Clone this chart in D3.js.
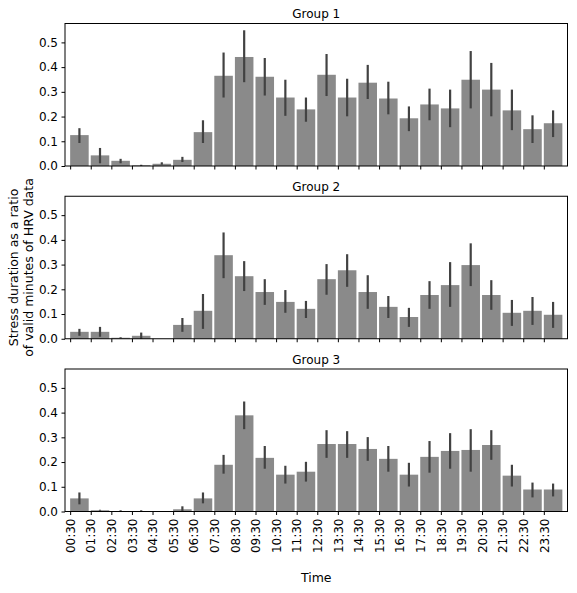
<!DOCTYPE html>
<html><head><meta charset="utf-8">
<script src="https://cdn.jsdelivr.net/npm/d3@7"></script>
<style>body{margin:0;background:#fff} svg{display:block} text{font-family:"DejaVu Sans",sans-serif;fill:#000}</style>
</head><body><svg id="c" width="577" height="593"></svg>
<script>
const times = ["00:30","01:30","02:30","03:30","04:30","05:30","06:30","07:30","08:30","09:30","10:30","11:30","12:30","13:30","14:30","15:30","16:30","17:30","18:30","19:30","20:30","21:30","22:30","23:30"];
const groupNames = ["Group 1","Group 2","Group 3"];
const yTicks = [0.0,0.1,0.2,0.3,0.4,0.5];

const g1Mean = [0.125,0.043,0.021,0.003,0.009,0.025,0.137,0.365,0.441,0.361,0.277,0.229,0.369,0.277,0.337,0.273,0.193,0.249,0.233,0.349,0.309,0.225,0.149,0.173];
const g1Low  = [0.093,0.011,0.011,0.000,0.005,0.016,0.093,0.277,0.339,0.285,0.203,0.179,0.283,0.201,0.271,0.209,0.141,0.185,0.157,0.233,0.201,0.145,0.093,0.117];
const g1High = [0.153,0.073,0.029,0.005,0.015,0.037,0.185,0.459,0.549,0.437,0.349,0.277,0.453,0.353,0.409,0.341,0.241,0.313,0.309,0.465,0.417,0.309,0.205,0.225];

const g2Mean = [0.028,0.028,0.004,0.012,0.000,0.056,0.113,0.338,0.253,0.189,0.149,0.121,0.241,0.277,0.189,0.129,0.088,0.177,0.217,0.298,0.177,0.105,0.113,0.097];
const g2Low  = [0.012,0.008,0.002,0.000,0.000,0.028,0.040,0.245,0.193,0.137,0.105,0.084,0.178,0.210,0.121,0.084,0.048,0.121,0.129,0.213,0.117,0.052,0.056,0.044];
const g2High = [0.040,0.048,0.006,0.025,0.000,0.084,0.181,0.430,0.314,0.241,0.197,0.153,0.302,0.342,0.257,0.173,0.125,0.233,0.310,0.386,0.237,0.157,0.169,0.149];

const g3Mean = [0.053,0.005,0.002,0.002,0.000,0.009,0.053,0.189,0.389,0.217,0.149,0.161,0.273,0.273,0.253,0.213,0.149,0.221,0.245,0.249,0.269,0.145,0.089,0.089];
const g3Low  = [0.029,0.003,0.000,0.000,0.000,0.000,0.033,0.153,0.333,0.173,0.113,0.121,0.217,0.217,0.205,0.161,0.101,0.157,0.173,0.161,0.209,0.101,0.057,0.061];
const g3High = [0.077,0.007,0.005,0.005,0.000,0.021,0.077,0.229,0.445,0.265,0.185,0.201,0.329,0.325,0.301,0.265,0.197,0.285,0.317,0.333,0.329,0.189,0.117,0.113];

const series = [
  {name: groupNames[0], mean: g1Mean, low: g1Low, high: g1High},
  {name: groupNames[1], mean: g2Mean, low: g2Low, high: g2High},
  {name: groupNames[2], mean: g3Mean, low: g3Low, high: g3High}
];

const svg = d3.select("#c");
const left = 65, right = 567.5;
const panelTop0 = 23.5, panelStep = 172.75, panelH = 142.5;
const barW = 0.9;
const allHigh = d3.max(series.flatMap(s => s.high));
const x = d3.scaleLinear().domain([-0.25, times.length - 1 + 0.25 + barW]).range([left, right]);

series.forEach((s, gi) => {
  const top = panelTop0 + gi * panelStep;
  const bottom = top + panelH;
  const y = d3.scaleLinear().domain([0, allHigh * 1.05]).range([bottom, top]);
  const g = svg.append("g");

  g.selectAll("rect.bar").data(s.mean).join("rect")
    .attr("x", (d, i) => x(i))
    .attr("width", x(barW) - x(0))
    .attr("y", d => y(d))
    .attr("height", d => y(0) - y(d))
    .attr("fill", "#8a8a8a");

  g.selectAll("line.err").data(s.mean.map((d, i) => i).filter(i => s.high[i] > s.low[i])).join("line")
    .attr("x1", i => x(i + barW / 2)).attr("x2", i => x(i + barW / 2))
    .attr("y1", i => y(s.low[i])).attr("y2", i => y(s.high[i]))
    .attr("stroke", "#424242").attr("stroke-width", 2.2);

  const yAxis = d3.axisLeft(y).tickValues(yTicks).tickFormat(d3.format(".1f")).tickSize(3.5).tickPadding(3.5);
  const ya = g.append("g").attr("transform", `translate(${left},0)`).call(yAxis);
  ya.select(".domain").remove();
  ya.selectAll("text").style("font-size", "12px").attr("fill", "#000");
  ya.selectAll("line").attr("stroke", "#000");

  const xAxis = d3.axisBottom(x).tickValues(d3.range(times.length)).tickFormat(i => times[i]).tickSize(3.5).tickPadding(3.5);
  const xa = g.append("g").attr("transform", `translate(0,${bottom})`).call(xAxis);
  xa.select(".domain").remove();
  xa.selectAll("line").attr("stroke", "#000");
  if (gi === series.length - 1) {
    xa.selectAll("text")
      .style("font-size", "12px").attr("fill", "#000")
      .attr("transform", "rotate(-90)")
      .attr("text-anchor", "end")
      .attr("x", -7).attr("y", 0).attr("dy", "0.35em");
  } else {
    xa.selectAll("text").remove();
  }

  g.append("rect").attr("x", left).attr("y", top).attr("width", right - left).attr("height", panelH)
    .attr("fill", "none").attr("stroke", "#000").attr("stroke-width", 1);

  g.append("text").attr("x", (left + right) / 2).attr("y", top - 5.5)
    .attr("text-anchor", "middle").style("font-size", "12px").text(s.name);
});

const midY = panelTop0 + panelStep + panelH / 2;
const yl = svg.append("text").attr("transform", `translate(0,${midY}) rotate(-90)`)
  .attr("text-anchor", "middle").style("font-size", "12.5px");
yl.append("tspan").attr("x", 0).attr("y", 18).text("Stress duration as a ratio");
yl.append("tspan").attr("x", 0).attr("y", 33).text("of valid minutes of HRV data");

svg.append("text").attr("x", (left + right) / 2).attr("y", 582).attr("text-anchor", "middle")
  .style("font-size", "12.5px").text("Time");
</script></body></html>
